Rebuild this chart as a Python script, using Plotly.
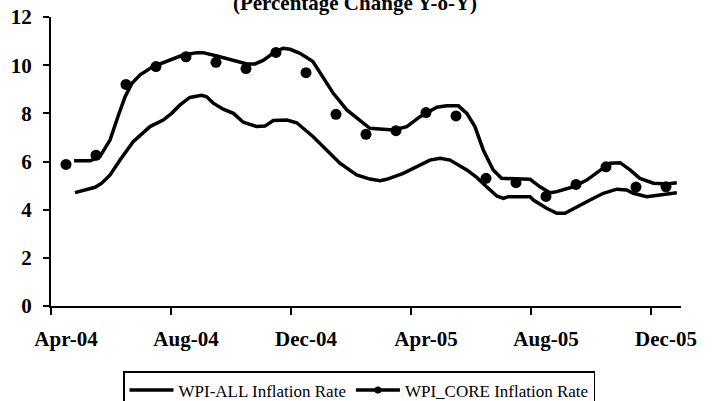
import plotly.graph_objects as go

# Monthly categories (x index 0 = start of Apr-04, each month = 1 unit)
months = ["Apr-04", "May-04", "Jun-04", "Jul-04", "Aug-04", "Sep-04", "Oct-04",
          "Nov-04", "Dec-04", "Jan-05", "Feb-05", "Mar-05", "Apr-05", "May-05",
          "Jun-05", "Jul-05", "Aug-05", "Sep-05", "Oct-05", "Nov-05", "Dec-05"]
tick_labels = ["Apr-04", "Aug-04", "Dec-04", "Apr-05", "Aug-05", "Dec-05"]
tick_pos = [0, 4, 8, 12, 16, 20]
y_ticks = [0, 2, 4, 6, 8, 10, 12]

# Monthly WPI_CORE inflation (dots), plotted at month centres
core_monthly = [5.88, 6.26, 9.20, 9.94, 10.35, 10.12, 9.86, 10.53, 9.69, 7.96, 7.13,
                7.28, 8.03, 7.89, 5.30, 5.12, 4.55, 5.05, 5.78, 4.94, 4.95]

# Weekly-ish WPI-ALL inflation (position in months from Apr-04, value)
all_pos = [0.80, 1.47, 1.69, 1.97, 2.30, 2.74, 3.30, 3.74, 4.02, 4.30, 4.63, 5.02, 5.19,
           5.41, 5.74, 6.08, 6.41, 6.86, 7.13, 7.41, 7.86, 8.19, 8.74, 9.19, 9.63, 10.19,
           10.63, 10.97, 11.19, 11.74, 12.30, 12.63, 12.97, 13.30, 13.86, 14.19, 14.52,
           14.86, 15.08, 15.24, 15.97, 16.08, 16.52, 16.86, 17.13, 17.52, 17.97, 18.41,
           18.86, 19.19, 19.41, 19.86, 20.30, 20.86]
all_val = [4.71, 4.93, 5.10, 5.44, 6.06, 6.82, 7.45, 7.72, 8.00, 8.35, 8.66, 8.75, 8.69,
           8.42, 8.17, 8.00, 7.63, 7.45, 7.47, 7.70, 7.72, 7.61, 7.03, 6.48, 5.93, 5.44,
           5.27, 5.20, 5.26, 5.51, 5.86, 6.06, 6.13, 6.06, 5.65, 5.34, 4.95, 4.57, 4.47,
           4.54, 4.54, 4.40, 4.06, 3.85, 3.85, 4.12, 4.40, 4.68, 4.85, 4.82, 4.68, 4.54,
           4.61, 4.70]

# Weekly-ish WPI_CORE inflation line
core_pos = [0.77, 1.30, 1.63, 1.97, 2.23, 2.47, 2.70, 2.97, 3.40, 3.97, 4.40, 4.87, 5.07,
            5.53, 6.07, 6.53, 6.80, 7.07, 7.40, 7.73, 7.97, 8.30, 8.73, 9.08, 9.41, 9.86,
            10.41, 10.63, 11.41, 11.86, 12.30, 12.86, 13.19, 13.58, 13.86, 14.13, 14.41,
            14.74, 15.02, 15.52, 15.97, 16.30, 16.63, 16.86, 17.41, 17.86, 18.30, 18.63,
            18.97, 19.30, 19.63, 20.08, 20.52, 20.86]
core_val = [6.03, 6.03, 6.20, 6.90, 7.86, 8.69, 9.25, 9.60, 9.94, 10.20, 10.42, 10.52, 10.52,
            10.38, 10.20, 10.05, 10.05, 10.20, 10.49, 10.70, 10.66, 10.49, 10.15, 9.50, 8.83,
            8.14, 7.59, 7.38, 7.31, 7.45, 7.86, 8.25, 8.31, 8.31, 8.00, 7.45, 6.48, 5.65,
            5.30, 5.26, 5.26, 4.95, 4.70, 4.75, 4.95, 5.23, 5.65, 5.93, 5.95, 5.65, 5.30,
            5.10, 5.07, 5.12]

month_centres = [i + 0.5 for i in range(len(months))]

SERIF = "Liberation Serif"
TICKFONT = dict(family=SERIF, size=21, color="black")

fig = go.Figure()
fig.add_trace(go.Scatter(x=all_pos, y=all_val, mode="lines", name="WPI-ALL Inflation Rate",
                         line=dict(color="black", width=3.5), showlegend=True))
fig.add_trace(go.Scatter(x=core_pos, y=core_val, mode="lines", name="WPI_CORE Inflation Rate",
                         line=dict(color="black", width=3.5), showlegend=False))
fig.add_trace(go.Scatter(x=month_centres, y=core_monthly, mode="markers",
                         text=months, name="WPI_CORE Inflation Rate",
                         marker=dict(color="black", size=11), showlegend=False))
fig.add_trace(go.Scatter(x=[None], y=[None], mode="lines+markers", name="WPI_CORE Inflation Rate",
                         line=dict(color="black", width=3.5),
                         marker=dict(color="black", size=7), showlegend=True))

fig.update_layout(
    width=718, height=401,
    margin=dict(l=51, r=37, t=17, b=95, autoexpand=False),
    paper_bgcolor="white", plot_bgcolor="white",
    font=dict(family=SERIF, color="black"),
    title=dict(text="<b>(Percentage Change Y-o-Y)</b>", x=355 / 718, xanchor="center",
               y=1 - 3 / 401, yanchor="middle", yref="container",
               font=dict(family=SERIF, size=21, color="black")),
    showlegend=True,
    legend=dict(orientation="h", x=(123 - 51) / 630, xanchor="left",
                y=-65 / 289, yanchor="top", bordercolor="black", borderwidth=1.5,
                bgcolor="white", itemwidth=44, tracegroupgap=0,
                font=dict(family=SERIF, size=17, color="black")),
)
fig.update_xaxes(range=[0, 21], tickvals=tick_pos,
                 ticktext=["<b>%s</b>" % t for t in tick_labels], automargin=False,
                 showgrid=False, zeroline=False, showline=True, linecolor="black",
                 linewidth=2, ticks="outside", ticklen=7, tickwidth=2, tickcolor="black",
                 ticklabelshift=15, ticklabelstandoff=6, tickfont=TICKFONT)
fig.update_yaxes(range=[0, 12], tickvals=y_ticks,
                 ticktext=["<b>%d</b>" % v for v in y_ticks], automargin=False,
                 showgrid=False, zeroline=False, showline=True, linecolor="black",
                 linewidth=2, ticks="outside", ticklen=6, tickwidth=2, tickcolor="black",
                 ticklabelstandoff=7, tickfont=TICKFONT)

fig.write_html("out.html", config={"displayModeBar": False},
               post_script="document.body.style.margin='0';")
